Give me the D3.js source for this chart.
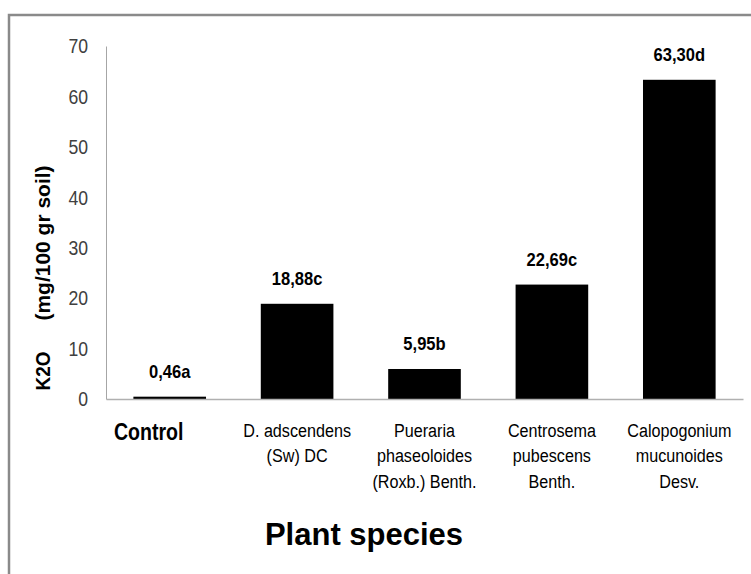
<!DOCTYPE html>
<html>
<head>
<meta charset="utf-8">
<script src="https://cdn.jsdelivr.net/npm/d3@7"></script>
<style>
  body { margin: 0; background: #fff; }
  svg { display: block; }
</style>
</head>
<body>
<div id="chart"></div>
<script>
// --- data ---
const categories = ["Control", "D. adscendens", "Pueraria", "Centrosema", "Calopogonium"];
const categoryLines = [
    ["Control"],
    ["D. adscendens", "(Sw) DC"],
    ["Pueraria", "phaseoloides", "(Roxb.) Benth."],
    ["Centrosema", "pubescens", "Benth."],
    ["Calopogonium", "mucunoides", "Desv."]
];
const values = [0.46, 18.88, 5.95, 22.69, 63.30];
const valueLabels = ["0,46a", "18,88c", "5,95b", "22,69c", "63,30d"];
const yTicks = [0, 10, 20, 30, 40, 50, 60, 70];

const width = 751, height = 574;
const marginLeft = 106, marginRight = 8, plotTop = 46, plotBottom = 399;
const narrow = 0.85; // horizontal squeeze, stands in for a condensed face

const svg = d3.select("#chart").append("svg")
    .attr("width", width)
    .attr("height", height);

// outer frame (runs off the right and bottom edges)
svg.append("rect")
    .attr("x", 9).attr("y", 15)
    .attr("width", 800).attr("height", 700)
    .attr("fill", "none")
    .attr("stroke", "#8a8a8a")
    .attr("stroke-width", 2.5);

const x = d3.scaleBand()
    .domain(categories)
    .range([marginLeft, width - marginRight])
    .paddingInner(0.43)
    .paddingOuter(0.215);

const y = d3.scaleLinear()
    .domain([0, 70])
    .range([plotBottom, plotTop]);

// y axis
const yAxis = svg.append("g")
    .attr("transform", `translate(${marginLeft},0)`)
    .call(d3.axisLeft(y).tickValues(yTicks).tickSize(0).tickSizeOuter(0));
yAxis.select(".domain").attr("stroke", "#a6a6a6").attr("stroke-width", 1);
yAxis.selectAll("text")
    .attr("x", 0)
    .attr("transform", "translate(-18,0) scale(0.84,1)")
    .attr("font-family", "'Liberation Sans', Arial, sans-serif")
    .attr("font-size", 21)
    .attr("fill", "#404040");

// bars
svg.append("g")
    .selectAll("rect")
    .data(values)
    .join("rect")
    .attr("x", (d, i) => x(categories[i]))
    .attr("y", d => y(d))
    .attr("width", x.bandwidth())
    .attr("height", d => y(0) - y(d))
    .attr("fill", "#000");

// x axis line
const xAxis = svg.append("g")
    .attr("transform", `translate(0,${plotBottom})`)
    .call(d3.axisBottom(x).tickSize(0).tickSizeOuter(0).tickFormat(""));
xAxis.select(".domain").attr("stroke", "#b0b0b0").attr("stroke-width", 1.5);

// value labels
svg.append("g")
    .selectAll("text")
    .data(values)
    .join("text")
    .attr("transform", (d, i) =>
        `translate(${x(categories[i]) + x.bandwidth() / 2},${y(d) - 19}) scale(0.92,1)`)
    .attr("text-anchor", "middle")
    .attr("font-family", "'Liberation Sans', Arial, sans-serif")
    .attr("font-weight", "bold")
    .attr("font-size", 18)
    .attr("fill", "#000")
    .text((d, i) => valueLabels[i]);

// category labels
const catG = svg.append("g");
categoryLines.forEach((lines, i) => {
    const isControl = i === 0;
    const cx = x(categories[i]) + x.bandwidth() / 2 - (isControl ? 21 : 0);
    const t = catG.append("text")
        .attr("transform", `translate(${cx},0) scale(${narrow},1)`)
        .attr("text-anchor", "middle")
        .attr("font-family", "'Liberation Sans', Arial, sans-serif")
        .attr("font-weight", isControl ? "bold" : "normal")
        .attr("font-size", isControl ? 23 : 19)
        .attr("fill", "#000");
    lines.forEach((line, j) => {
        t.append("tspan")
            .attr("x", 0)
            .attr("y", (isControl ? 440 : 437) + j * 25.5)
            .text(line);
    });
});

// y axis title
const yTitle = svg.append("g")
    .attr("font-family", "'Liberation Sans', Arial, sans-serif")
    .attr("font-weight", "bold")
    .attr("font-size", 21)
    .attr("fill", "#000")
    .attr("text-anchor", "middle");
yTitle.append("text")
    .attr("transform", "translate(50,371) rotate(-90) scale(0.9,1)")
    .text("K2O");
yTitle.append("text")
    .attr("transform", "translate(50,243) rotate(-90)")
    .text("(mg/100 gr soil)");

// x axis title
svg.append("text")
    .attr("x", 364)
    .attr("y", 545)
    .attr("text-anchor", "middle")
    .attr("font-family", "'Liberation Sans', Arial, sans-serif")
    .attr("font-weight", "bold")
    .attr("font-size", 31)
    .attr("fill", "#000")
    .text("Plant species");
</script>
</body>
</html>
